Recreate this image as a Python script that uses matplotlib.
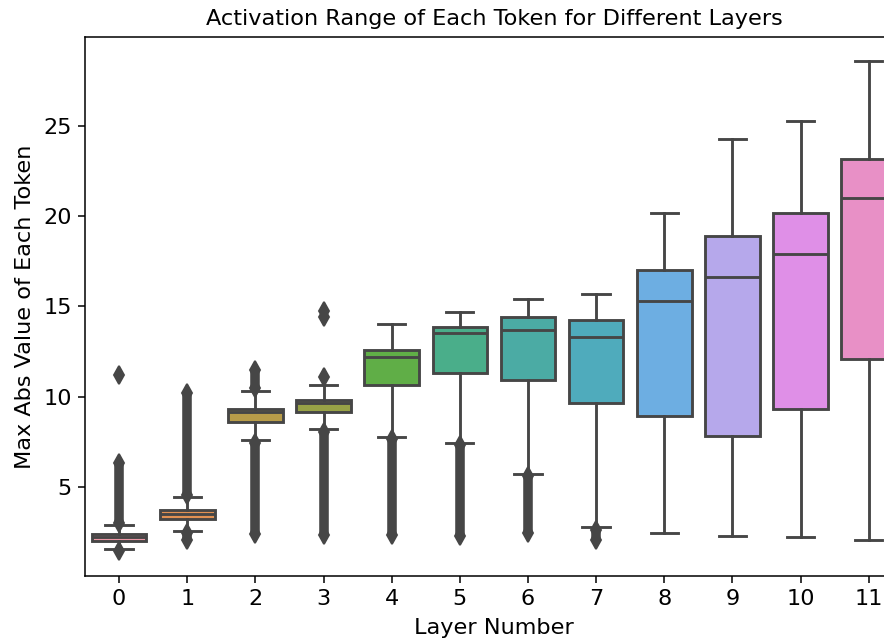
import matplotlib.pyplot as plt
import seaborn as sns
import colorsys

# Summary statistics, one entry per layer
layers = list(range(12))
q1 = [1.97, 3.21, 8.58, 9.12, 10.63, 11.33, 10.93, 9.64, 8.93, 7.83, 9.30, 12.07]
med = [2.22, 3.50, 9.14, 9.64, 12.22, 13.51, 13.70, 13.29, 15.30, 16.61, 17.89, 21.04]
q3 = [2.40, 3.73, 9.32, 9.82, 12.59, 13.88, 14.43, 14.25, 17.02, 18.90, 20.20, 23.17]
whislo = [1.55, 2.55, 7.60, 8.20, 7.75, 7.42, 5.72, 2.77, 2.43, 2.29, 2.21, 2.06]
whishi = [2.86, 4.43, 10.32, 10.63, 14.03, 14.70, 15.42, 15.67, 20.16, 24.28, 25.28, 28.60]

# isolated outliers
outliers = [[11.2, 1.45], [], [], [11.1, 14.4, 14.75], [], [], [], [], [], [], [], []]
# dense runs of outliers (low, high) that show up as solid columns of markers
outlier_runs = [
    [(3.0, 6.3)],
    [(4.55, 10.2), (2.05, 2.45)],
    [(10.45, 11.5), (2.4, 7.45)],
    [(2.35, 8.05)],
    [(2.35, 7.65)],
    [(2.25, 7.3)],
    [(2.45, 5.6)],
    [(2.05, 2.6)],
    [], [], [], [],
]

# seaborn's palette for many categories, desaturated like its boxplot does
palette = [sns.desaturate(c, 0.75) for c in sns.husl_palette(len(layers), l=.7)]
lum = min(colorsys.rgb_to_hls(*c)[1] for c in palette) * .6
gray = (lum, lum, lum)

stats = []
for i in layers:
    fl = list(outliers[i])
    for lo, hi in outlier_runs[i]:
        fl += [lo, hi]
    stats.append({'med': med[i], 'q1': q1[i], 'q3': q3[i],
                  'whislo': whislo[i], 'whishi': whishi[i], 'fliers': fl})

fig = plt.figure(figsize=(884 / 138, 638 / 138), dpi=138)
ax = fig.add_axes([0.0962, 0.0972, 0.925, 0.845])

line_kw = {'color': gray, 'linewidth': 1.5}
bp = ax.bxp(stats, positions=layers, widths=0.8, patch_artist=True,
            boxprops={'edgecolor': gray, 'linewidth': 1.5},
            whiskerprops=line_kw, capprops=line_kw, medianprops=line_kw,
            flierprops={'marker': 'd', 'markersize': 6.5, 'markerfacecolor': gray,
                        'markeredgecolor': gray, 'linestyle': 'none'},
            zorder=2)
for box, c in zip(bp['boxes'], palette):
    box.set_facecolor(c)

for i in layers:
    for lo, hi in outlier_runs[i]:
        ax.vlines(i, lo, hi, color=gray, linewidth=5.0, zorder=2)

fs = 11.7
ax.set_xlim(-0.5, len(layers) - 0.5)
ax.set_ylim(0.05, 29.95)
ax.set_xticks(layers)
ax.set_xticklabels([str(l) for l in layers])
ax.set_yticks([5, 10, 15, 20, 25])
ax.tick_params(labelsize=fs)
ax.set_xlabel('Layer Number', fontsize=fs, labelpad=4.5)
ax.set_ylabel('Max Abs Value of Each Token', fontsize=fs)
ax.set_title('Activation Range of Each Token for Different Layers', fontsize=fs)

fig.savefig('out.png', dpi=138)
